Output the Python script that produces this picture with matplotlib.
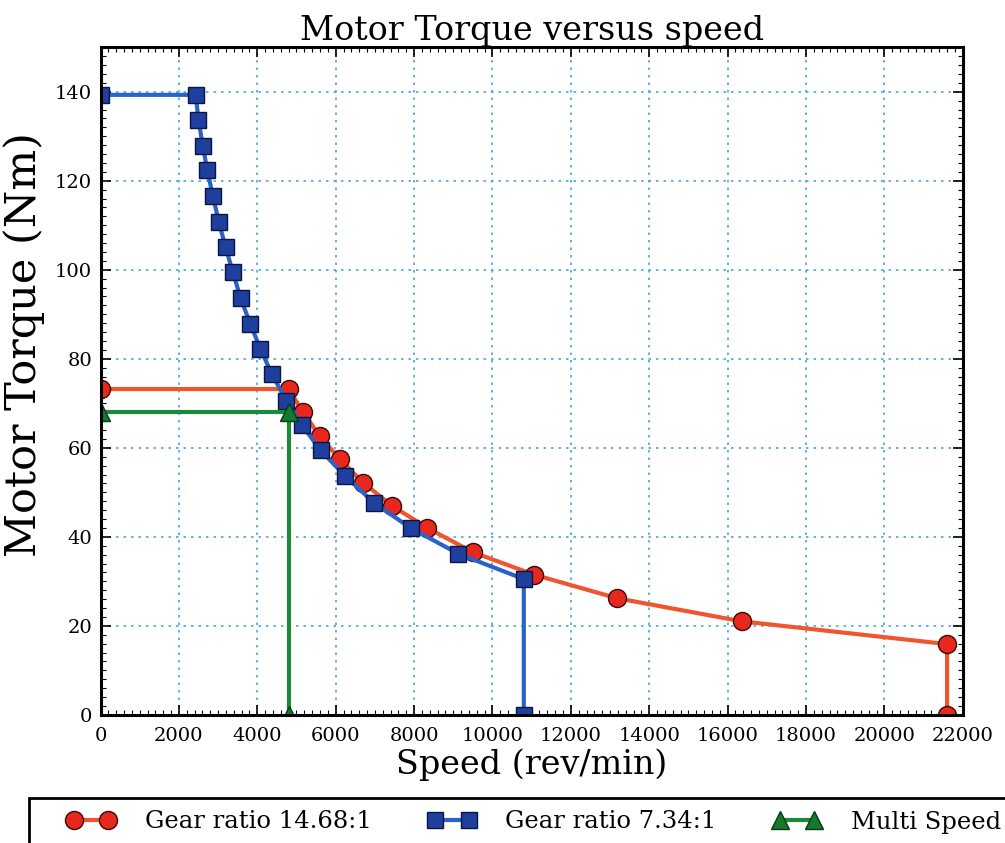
import matplotlib
matplotlib.use('Agg')
import matplotlib.pyplot as plt
from matplotlib.patches import Rectangle
from matplotlib.ticker import MultipleLocator, AutoMinorLocator

# Gear ratio 14.68:1
red_speed = [0, 4800, 5170, 5590, 6100, 6700, 7430, 8340, 9510, 11060, 13180, 16370, 21600, 21600]
red_torque = [73.2, 73.2, 68.0, 62.7, 57.5, 52.2, 47.0, 42.0, 36.5, 31.5, 26.2, 21.0, 15.9, 0]

# Gear ratio 7.34:1
blue_speed = [0, 2430, 2500, 2610, 2720, 2870, 3020, 3190, 3380, 3575, 3820, 4080, 4370, 4740,
              5130, 5620, 6240, 6980, 7910, 9130, 10800, 10800]
blue_torque = [139.3, 139.3, 133.6, 127.9, 122.5, 116.5, 110.7, 105.1, 99.4, 93.6, 87.9, 82.2,
               76.6, 70.6, 65.2, 59.4, 53.7, 47.6, 42.0, 36.2, 30.5, 0]

# Multi Speed
green_speed = [0, 4800, 4800]
green_torque = [68, 68, 0]

plt.rcParams['font.family'] = ['DejaVu Serif']

fig = plt.figure(figsize=(10.05, 8.43), dpi=100)
ax = fig.add_axes([0.1, 0.152, 0.858, 0.792])

ax.plot(red_speed, red_torque, '-o', color='#f0552e', lw=3, ms=13,
        mfc='#e8281e', mec='#3a0a05', mew=1, label='Gear ratio 14.68:1')
ax.plot(blue_speed, blue_torque, '-s', color='#2a62c8', lw=3, ms=12,
        mfc='#1f3f9e', mec='#0a1540', mew=1, label='Gear ratio 7.34:1')
ax.plot(green_speed, green_torque, '-^', color='#1c8a38', lw=3, ms=13,
        mfc='#137a2c', mec='#0a3a15', mew=1, label='Multi Speed')

ax.set_xlim(0, 22000)
ax.set_ylim(0, 150)
ax.xaxis.set_major_locator(MultipleLocator(2000))
ax.yaxis.set_major_locator(MultipleLocator(20))
ax.xaxis.set_minor_locator(AutoMinorLocator(10))
ax.yaxis.set_minor_locator(AutoMinorLocator(10))
ax.set_yticks([0, 20, 40, 60, 80, 100, 120, 140])
ax.tick_params(which='both', direction='in', top=True, right=True, labelsize=14)
ax.tick_params(which='major', length=7, width=1.2)
ax.tick_params(which='minor', length=3.5, width=0.8)
ax.tick_params(axis='x', which='major', pad=9)
ax.tick_params(axis='y', which='major', pad=6)
for s in ax.spines.values():
    s.set_linewidth(2.2)

ax.grid(True, which='major', color='#4aa6dc', linestyle=(0, (1.5, 3)), linewidth=1.2)
ax.set_axisbelow(True)

ax.set_title('Motor Torque versus speed', fontsize=24, pad=2)
ax.set_xlabel('Speed (rev/min)', fontsize=24, labelpad=2)
ax.set_ylabel('Motor Torque (Nm)', fontsize=31)
ax.yaxis.set_label_coords(-0.064, 0.554)

# legend frame sits partly outside the figure, like the original
fig.add_artist(Rectangle((29 / 1005, -0.05), 1.1, (843 - 798) / 843 + 0.05,
                         transform=fig.transFigure, facecolor='white',
                         edgecolor='black', linewidth=2, zorder=1))
leg = fig.legend(loc='center left', bbox_to_anchor=(67 / 1005, 1 - 822 / 843),
                 bbox_transform=fig.transFigure, ncol=3, fontsize=17.5, numpoints=2,
                 handlelength=2.0, handletextpad=1.19, columnspacing=2.32,
                 frameon=False, borderpad=0, borderaxespad=0)

fig.savefig('out.png', dpi=100)
